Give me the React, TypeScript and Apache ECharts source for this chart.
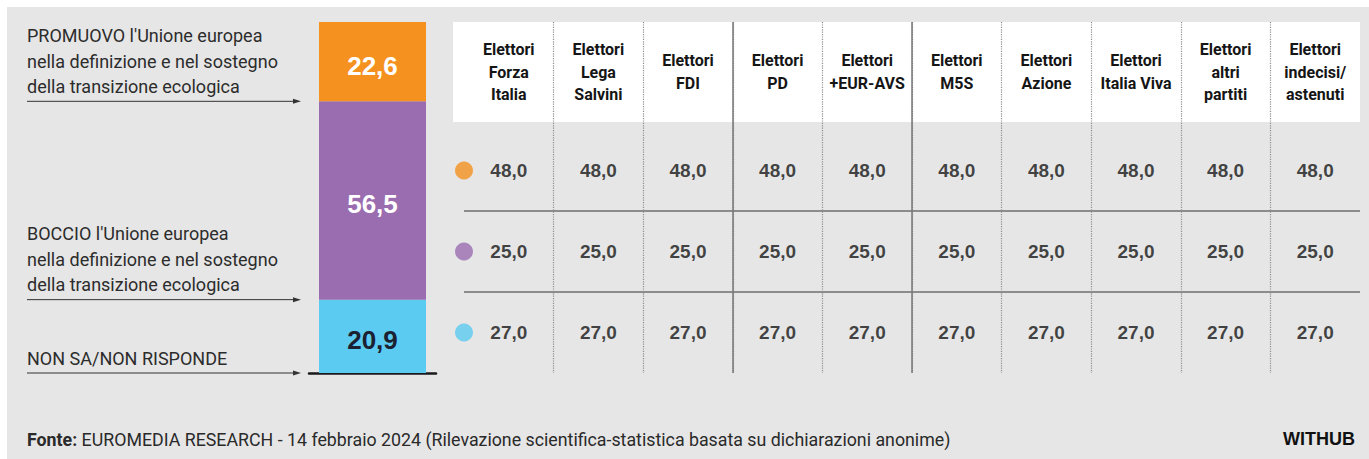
import React, { useEffect, useRef } from "react";
import * as echarts from "echarts";

// ---- DATA ----
const segmentLabels = [
  "PROMUOVO l'Unione europea\nnella definizione e nel sostegno\ndella transizione ecologica",
  "BOCCIO l'Unione europea\nnella definizione e nel sostegno\ndella transizione ecologica",
  "NON SA/NON RISPONDE",
];
const totals = [22.6, 56.5, 20.9];
const segmentColors = ["#f5911e", "#9a6db1", "#5ccbf1"];
const segmentLabelColors = ["#ffffff", "#ffffff", "#1b2131"];

const parties = [
  "Elettori\nForza\nItalia",
  "Elettori\nLega\nSalvini",
  "Elettori\nFDI",
  "Elettori\nPD",
  "Elettori\n+EUR-AVS",
  "Elettori\nM5S",
  "Elettori\nAzione",
  "Elettori\nItalia Viva",
  "Elettori\naltri\npartiti",
  "Elettori\nindecisi/\nastenuti",
];
const promuovo = [48.0, 48.0, 48.0, 48.0, 48.0, 48.0, 48.0, 48.0, 48.0, 48.0];
const boccio = [25.0, 25.0, 25.0, 25.0, 25.0, 25.0, 25.0, 25.0, 25.0, 25.0];
const nonSa = [27.0, 27.0, 27.0, 27.0, 27.0, 27.0, 27.0, 27.0, 27.0, 27.0];
const tableRows = [promuovo, boccio, nonSa];
const solidDividers = [3, 5];

const sourceText =
  " EUROMEDIA RESEARCH - 14 febbraio 2024 (Rilevazione scientifica-statistica basata su dichiarazioni anonime)";

const fmt = (v: number) => v.toFixed(1).replace(".", ",");

const TXT = "Roboto";
const NUM = "Liberation Sans";

export default function App() {
  const ref = useRef<HTMLDivElement>(null);

  useEffect(() => {
    document.body.style.margin = "0";
    if (!ref.current) return;
    const chart = echarts.init(ref.current, null, { renderer: "svg" });

    // bottoms of each segment (stack order bottom->top: 2,1,0)
    const bottoms = totals.map((_, i) => {
      let s = 0;
      for (let j = i + 1; j < totals.length; j++) s += totals[j];
      return s;
    });

    const barSeries = [2, 1, 0].map((i) => ({
      type: "bar",
      name: String(i),
      stack: "total",
      xAxisIndex: 0,
      yAxisIndex: 0,
      barWidth: 107,
      data: [totals[i]],
      itemStyle: { color: segmentColors[i] },
      label: {
        show: true,
        position: "inside",
        offset: [0, 4],
        formatter: (p: any) => fmt(p.value),
        color: segmentLabelColors[i],
        fontFamily: NUM,
        fontWeight: "bold",
        fontSize: 26,
        textBorderWidth: 0,
      },
      z: 2,
    }));

    const labelSeries = {
      type: "custom",
      xAxisIndex: 0,
      yAxisIndex: 0,
      clip: false,
      silent: true,
      data: totals.map((_, i) => [0, bottoms[i], i]),
      renderItem: (params: any, api: any) => {
        const idx = params.dataIndex;
        const y = api.coord([0, api.value(1)])[1];
        return {
          type: "group",
          children: [
            {
              type: "text",
              style: {
                x: 27,
                y: y - 2,
                text: segmentLabels[idx],
                fill: "#2c2c2c",
                fontFamily: TXT,
                fontSize: 18,
                lineHeight: 25.5,
                align: "left",
                verticalAlign: "bottom",
              },
            },
            {
              type: "line",
              shape: { x1: 27, y1: y, x2: 296, y2: y },
              style: { stroke: "#333", lineWidth: 1 },
            },
            {
              type: "polygon",
              shape: { points: [[293, y - 2.5], [301, y], [293, y + 2.5]] },
              style: { fill: "#333" },
            },
          ],
        };
      },
    };

    const dotSeries = tableRows.map((_, r) => ({
      type: "scatter",
      xAxisIndex: 1,
      yAxisIndex: 1,
      clip: false,
      silent: true,
      symbol: "circle",
      symbolSize: 18,
      data: [[0, r + 0.5]],
      itemStyle: { color: segmentColors[r] },
      z: 3,
    }));

    const valueSeries = tableRows.map((row, r) => ({
      type: "scatter",
      xAxisIndex: 1,
      yAxisIndex: 1,
      clip: false,
      silent: true,
      symbolSize: 1,
      itemStyle: { color: "rgba(0,0,0,0)" },
      data: row.map((v, i) => [i + 0.5, r + 0.5, v]),
      label: {
        show: true,
        position: "inside",
        formatter: (p: any) => fmt(p.value[2]),
        color: "#151515",
        textBorderWidth: 0,
        fontFamily: NUM,
        fontWeight: "bold",
        fontSize: 19,
      },
      z: 4,
    }));

    const dividerSeries = {
      type: "line",
      xAxisIndex: 3,
      yAxisIndex: 2,
      symbol: "none",
      silent: true,
      lineStyle: { opacity: 0 },
      data: [[0, 0]],
      markLine: {
        silent: true,
        symbol: ["none", "none"],
        label: { show: false },
        lineStyle: { type: "solid", color: "#777", width: 1.5 },
        data: solidDividers.map((x) => ({ xAxis: x })),
      },
    };

    chart.setOption({
      animation: false,
      backgroundColor: "transparent",
      textStyle: { fontFamily: TXT },
      grid: [
        { left: 309, top: 22, width: 127, height: 351, containLabel: false, outerBoundsMode: "none" },
        { left: 464, top: 130, width: 896, height: 243, containLabel: false, outerBoundsMode: "none" },
        { left: 464, top: 22, width: 896, height: 351, containLabel: false, outerBoundsMode: "none" },
      ],
      xAxis: [
        {
          type: "category",
          gridIndex: 0,
          data: [""],
          axisLine: { show: true, lineStyle: { color: "#1a1a1a", width: 2.5 } },
          axisTick: { show: false },
          axisLabel: { show: false },
          splitLine: { show: false },
        },
        {
          type: "value",
          gridIndex: 1,
          min: 0,
          max: 10,
          interval: 1,
          show: false,
        },
        {
          type: "category",
          gridIndex: 1,
          position: "top",
          data: parties,
          boundaryGap: true,
          axisLine: { show: false },
          axisTick: { show: false },
          splitLine: { show: false },
          axisLabel: {
            interval: 0,
            margin: 58,
            verticalAlign: "middle",
            lineHeight: 22.5,
            color: "#151515",
            fontFamily: TXT,
            fontWeight: "bold",
            fontSize: 16,
          },
        },
        {
          type: "value",
          gridIndex: 2,
          min: 0,
          max: 10,
          interval: 1,
          axisLine: { show: false },
          axisTick: { show: false },
          axisLabel: { show: false },
          splitLine: {
            show: true,
            showMinLine: false,
            showMaxLine: false,
            lineStyle: { type: "dotted", color: "#8e8e8e", width: 1.2 },
          },
        },
      ],
      yAxis: [
        { type: "value", gridIndex: 0, min: 0, max: 100, show: false },
        {
          type: "value",
          gridIndex: 1,
          min: 0,
          max: 3,
          interval: 1,
          inverse: true,
          axisLine: { show: false },
          axisTick: { show: false },
          axisLabel: { show: false },
          splitLine: {
            show: true,
            showMinLine: false,
            showMaxLine: false,
            lineStyle: { type: "solid", color: "#6e6e6e", width: 1.5 },
          },
        },
        { type: "value", gridIndex: 2, min: 0, max: 1, show: false },
      ],
      graphic: [
        {
          type: "rect",
          z: -10,
          silent: true,
          shape: { x: 7, y: 7, width: 1362, height: 452 },
          style: { fill: "#e6e6e6" },
        },
        {
          type: "rect",
          z: -5,
          silent: true,
          shape: { x: 453, y: 22, width: 907, height: 100 },
          style: { fill: "#ffffff" },
        },
        {
          type: "text",
          z: 10,
          x: 27,
          y: 439,
          style: {
            text: "{b|Fonte:}" + sourceText,
            fill: "#2a2a2a",
            fontFamily: TXT,
            fontSize: 17.8,
            verticalAlign: "middle",
            align: "left",
            rich: {
              b: { fontFamily: TXT, fontSize: 17.8, fontWeight: "bold", fill: "#2a2a2a" },
            },
          },
        },
        {
          type: "text",
          z: 10,
          x: 1355,
          y: 439,
          style: {
            text: "WITHUB",
            fill: "#111",
            fontFamily: NUM,
            fontWeight: "bold",
            fontSize: 18,
            align: "right",
            verticalAlign: "middle",
          },
        },
      ],
      series: [...barSeries, labelSeries, ...dotSeries, ...valueSeries, dividerSeries],
    });

    return () => chart.dispose();
  }, []);

  return <div ref={ref} style={{ width: 1369, height: 459, background: "#ffffff" }} />;
}
